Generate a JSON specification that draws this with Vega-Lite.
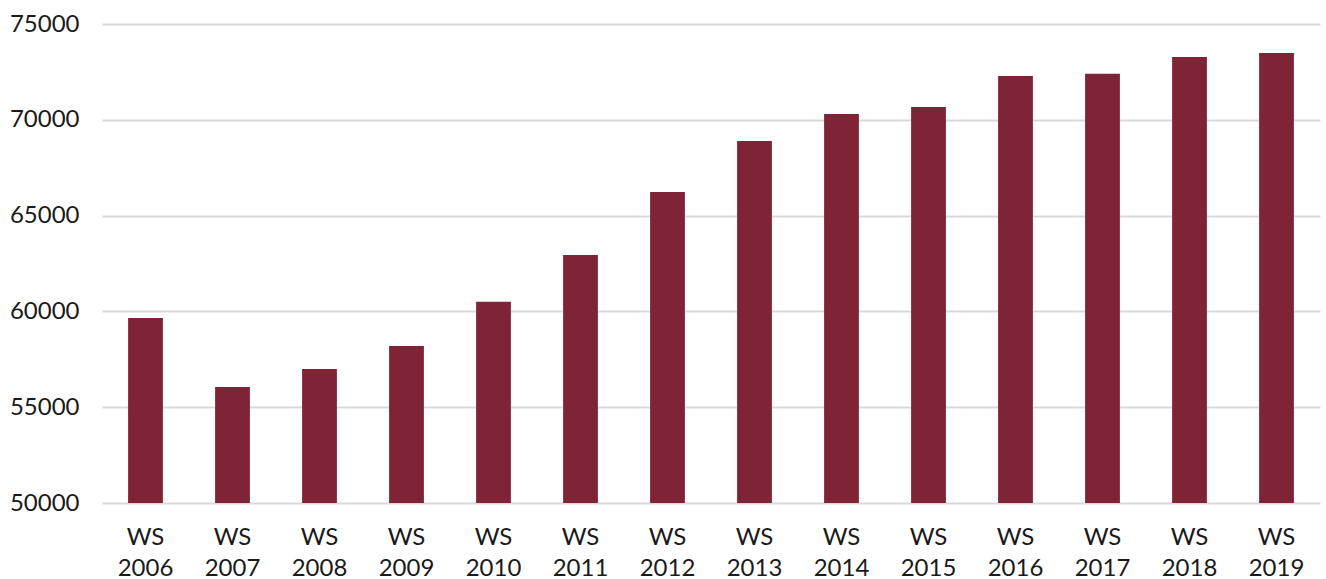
{
  "$schema": "https://vega.github.io/schema/vega-lite/v6.json",
  "width": 1218,
  "height": 479,
  "autosize": {"type": "none"},
  "padding": {"left": 102, "top": 24, "right": 6, "bottom": 76},
  "background": "white",
  "config": {
    "view": {"stroke": null},
    "font": "Lato"
  },
  "data": {
    "values": [
      {"semester": "WS 2006", "students": 59660},
      {"semester": "WS 2007", "students": 56060},
      {"semester": "WS 2008", "students": 57000},
      {"semester": "WS 2009", "students": 58200},
      {"semester": "WS 2010", "students": 60500},
      {"semester": "WS 2011", "students": 62950},
      {"semester": "WS 2012", "students": 66230},
      {"semester": "WS 2013", "students": 68900},
      {"semester": "WS 2014", "students": 70300},
      {"semester": "WS 2015", "students": 70670},
      {"semester": "WS 2016", "students": 72290},
      {"semester": "WS 2017", "students": 72400},
      {"semester": "WS 2018", "students": 73280},
      {"semester": "WS 2019", "students": 73490}
    ]
  },
  "mark": {"type": "bar", "color": "#7f2437", "clip": true},
  "encoding": {
    "x": {
      "field": "semester",
      "type": "nominal",
      "sort": null,
      "scale": {"paddingInner": 0.6, "paddingOuter": 0.3},
      "axis": {
        "title": null,
        "labelAngle": 0,
        "domain": false,
        "ticks": false,
        "labelFontSize": 24,
        "labelColor": "#1a1a1a",
        "labelPadding": 22,
        "labelLineHeight": 31,
        "labelExpr": "split(datum.label, ' ')"
      }
    },
    "y": {
      "field": "students",
      "type": "quantitative",
      "scale": {"domain": [50000, 75000], "zero": false, "nice": false},
      "axis": {
        "title": null,
        "values": [50000, 55000, 60000, 65000, 70000, 75000],
        "format": "d",
        "domain": false,
        "ticks": false,
        "grid": true,
        "gridColor": "#d9d9d9",
        "gridWidth": 2,
        "labelFontSize": 24,
        "labelColor": "#1a1a1a",
        "labelPadding": 23
      }
    }
  }
}
